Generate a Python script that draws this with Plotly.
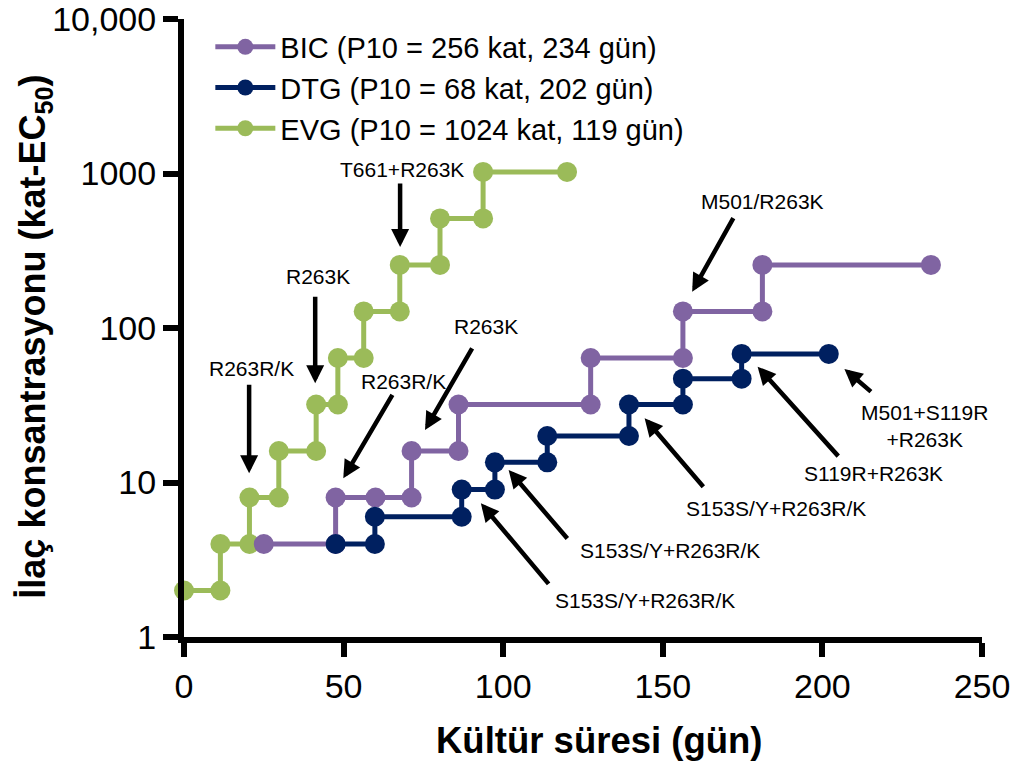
import plotly.graph_objects as go

# ---------------- data ----------------
evg_days = [0, 11.4, 11.4, 20.5, 20.5, 29.7, 29.7, 41.4, 41.4, 48.2, 48.2, 56.3, 56.3, 67.6, 67.6, 80.2, 80.2, 93.7, 93.7, 120]
evg_fold = [2, 2, 4, 4, 8, 8, 16, 16, 32, 32, 64, 64, 128, 128, 256, 256, 512, 512, 1024, 1024]

bic_days = [25, 47.5, 47.5, 60, 71.3, 71.3, 86, 86, 127.4, 127.4, 156.3, 156.3, 181.2, 181.2, 234]
bic_fold = [4, 4, 8, 8, 8, 16, 16, 32, 32, 64, 64, 128, 128, 256, 256]

dtg_days = [47.5, 59.8, 59.8, 87, 87, 97.4, 97.4, 113.8, 113.8, 139.4, 139.4, 156.3, 156.3, 174.7, 174.7, 202]
dtg_fold = [4, 4, 6, 6, 9, 9, 13.5, 13.5, 20, 20, 32, 32, 47, 47, 68, 68]

series_names = ["BIC (P10 = 256 kat, 234 gün)",
                "DTG (P10 = 68 kat, 202 gün)",
                "EVG (P10 = 1024 kat, 119 gün)"]

x_ticks = [0, 50, 100, 150, 200, 250]
y_ticks = [1, 10, 100, 1000, 10000]
y_ticktext = ["1", "10", "100", "1000", "10,000"]

x_title = "<b>Kültür süresi (gün)</b>"
y_title = "<b>İlaç konsantrasyonu (kat-EC<sub>50</sub>)</b>"

# mutation labels: (text, day, log10 fold)
labels = [
    ("T661+R263K", 68.3, 3.023),
    ("R263K", 42.1, 2.332),
    ("R263R/K", 21.3, 1.739),
    ("R263R/K", 68.7, 1.652),
    ("R263K", 94.7, 2.008),
    ("M501/R263K", 181.1, 2.818),
    ("S153S/Y+R263R/K", 144.5, 0.239),
    ("S153S/Y+R263R/K", 152.1, 0.563),
    ("S153S/Y+R263R/K", 185.6, 0.833),
    ("S119R+R263K", 216.1, 1.06),
    ("M501+S119R<br>+R263K", 232.0, 1.366),
]
# arrows: (tip day, tip log10 fold, tail dx px, tail dy px)
arrows = [
    (67.7, 2.524, 0, -65),
    (41.1, 1.642, 0, -88),
    (20.4, 1.060, 0, -90),
    (49.9, 1.027, 50, -85),
    (75.5, 1.340, 48, -83),
    (159.2, 2.235, 42, -75),
    (93.0, 0.865, 69, 82),
    (101.7, 1.081, 60, 70),
    (144.3, 1.416, 60, 70),
    (179.7, 1.750, 82, 91),
    (206.9, 1.735, 28, 24),
]

# ---------------- styles ----------------
FONT = "Liberation Sans, Arial, Helvetica, sans-serif"
C_BIC = "#8064A2"
C_DTG = "#002060"
C_EVG = "#9BBB59"

fig = go.Figure()
for name, xs, ys, col, rank in [
    (series_names[2], evg_days, evg_fold, C_EVG, 3),
    (series_names[0], bic_days, bic_fold, C_BIC, 1),
    (series_names[1], dtg_days, dtg_fold, C_DTG, 2),
]:
    fig.add_trace(go.Scatter(
        x=xs, y=ys, name=name, mode="lines+markers", legendrank=rank,
        line=dict(color=col, width=5),
        marker=dict(color=col, size=20, symbol="circle"),
        cliponaxis=False,
    ))

ann = []
for text, x, y in labels:
    ann.append(dict(text=text, x=x, y=y, xref="x", yref="y", showarrow=False,
                    xanchor="center", yanchor="middle",
                    font=dict(family=FONT, size=21, color="black")))
for x, y, dx, dy in arrows:
    ann.append(dict(text="", x=x, y=y, xref="x", yref="y", showarrow=True,
                    ax=dx, ay=dy, arrowhead=2, arrowsize=0.8, arrowwidth=4.5,
                    arrowcolor="black", standoff=0, startstandoff=0))
# axis titles
ann.append(dict(text=x_title, x=0.52, y=-0.168, xref="paper", yref="paper",
                showarrow=False, xanchor="center", yanchor="middle",
                font=dict(family=FONT, size=36.5, color="black")))
ann.append(dict(text=y_title, x=-0.1867, y=0.486, xref="paper", yref="paper",
                showarrow=False, xanchor="center", yanchor="middle", textangle=-90,
                font=dict(family=FONT, size=36, color="black")))

fig.update_layout(
    width=1023, height=761,
    margin=dict(l=184, r=41, t=19, b=124),
    paper_bgcolor="white", plot_bgcolor="white",
    font=dict(family=FONT, color="black"),
    showlegend=True,
    legend=dict(x=0.033, y=0.996, xanchor="left", yanchor="top",
                bgcolor="rgba(0,0,0,0)", font=dict(family=FONT, size=29, color="black"),
                itemwidth=60, tracegroupgap=0, itemsizing="trace"),
    annotations=ann,
    xaxis=dict(range=[0, 250], tickvals=x_ticks, showgrid=False, zeroline=False,
               automargin=False,
               showline=True, linewidth=6, linecolor="black",
               ticks="outside", ticklen=14, tickwidth=6, tickcolor="black",
               ticklabeloverflow="allow",
               tickfont=dict(family=FONT, size=34, color="black")),
    yaxis=dict(type="log", range=[0, 4], tickvals=y_ticks, ticktext=y_ticktext,
               showgrid=False, zeroline=False, automargin=False,
               showline=True, linewidth=6, linecolor="black",
               ticks="outside", ticklen=15, tickwidth=6, tickcolor="black",
               ticklabeloverflow="allow",
               tickfont=dict(family=FONT, size=34, color="black")),
)

fig.write_html("out.html", config={"displayModeBar": False},
               post_script="document.body.style.margin='0';")
